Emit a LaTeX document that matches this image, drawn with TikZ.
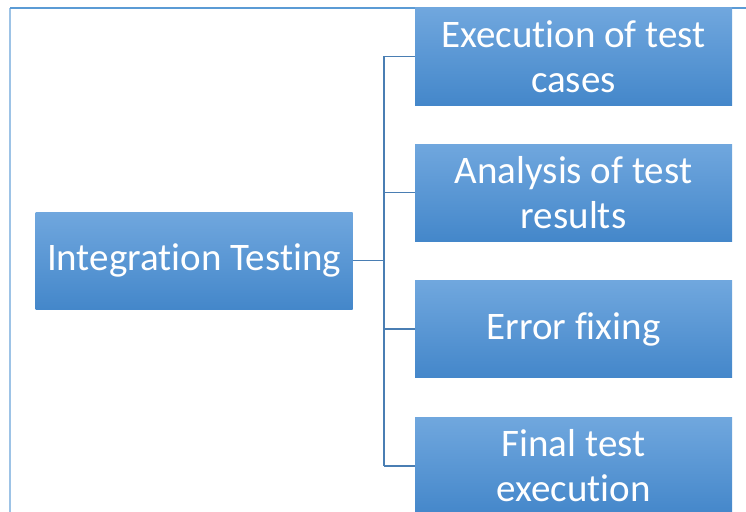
\documentclass[tikz,border=0pt]{standalone}
\usepackage{fontspec}
\setmainfont{Carlito}[Ligatures={NoCommon}]
\definecolor{boxtop}{HTML}{70A7DE}
\definecolor{boxbot}{HTML}{4487CA}
\definecolor{linkblue}{HTML}{4A7EB3}
\definecolor{frameblue}{HTML}{9DC3E6}
\definecolor{frametop}{HTML}{5B9BD5}
\tikzset{
  stepbox/.style={rectangle, top color=boxtop, bottom color=boxbot,
    minimum width=317pt, minimum height=97pt, inner sep=0pt,
    text=white, align=center,
    font=\fontsize{39}{45}\selectfont},
  link/.style={draw=linkblue, line width=1.4pt}
}
\begin{document}
\begin{tikzpicture}[x=1pt,y=-1pt]
  \useasboundingbox (0,0) rectangle (746,511);
  \clip (0,0) rectangle (746,511);
  % page frame
  \draw[frameblue, line width=1.5pt] (10,8) -- (10,520);
  \draw[frametop, line width=1.2pt] (10,8) -- (750,8);
  % boxes
  \node[stepbox] (main) at (194,260.5) {Integration Testing};
  \node[stepbox] (exec) at (573.5,56.5) {Execution of test\\cases};
  \node[stepbox] (anal) at (573.5,192.5) {Analysis of test\\results};
  \node[stepbox] (fix)  at (573.5,329) {Error fixing};
  \node[stepbox] (final) at (573.5,466) {Final test\\execution};
  % connectors
  \coordinate (trunk) at (384,0);
  \draw[link] (main.east) -- (main.east -| trunk);
  \draw[link] (exec.west -| trunk) -- (final.west -| trunk);
  \foreach \n in {exec,anal,fix,final}
    \draw[link] (\n.west -| trunk) -- (\n.west);
\end{tikzpicture}
\end{document}
